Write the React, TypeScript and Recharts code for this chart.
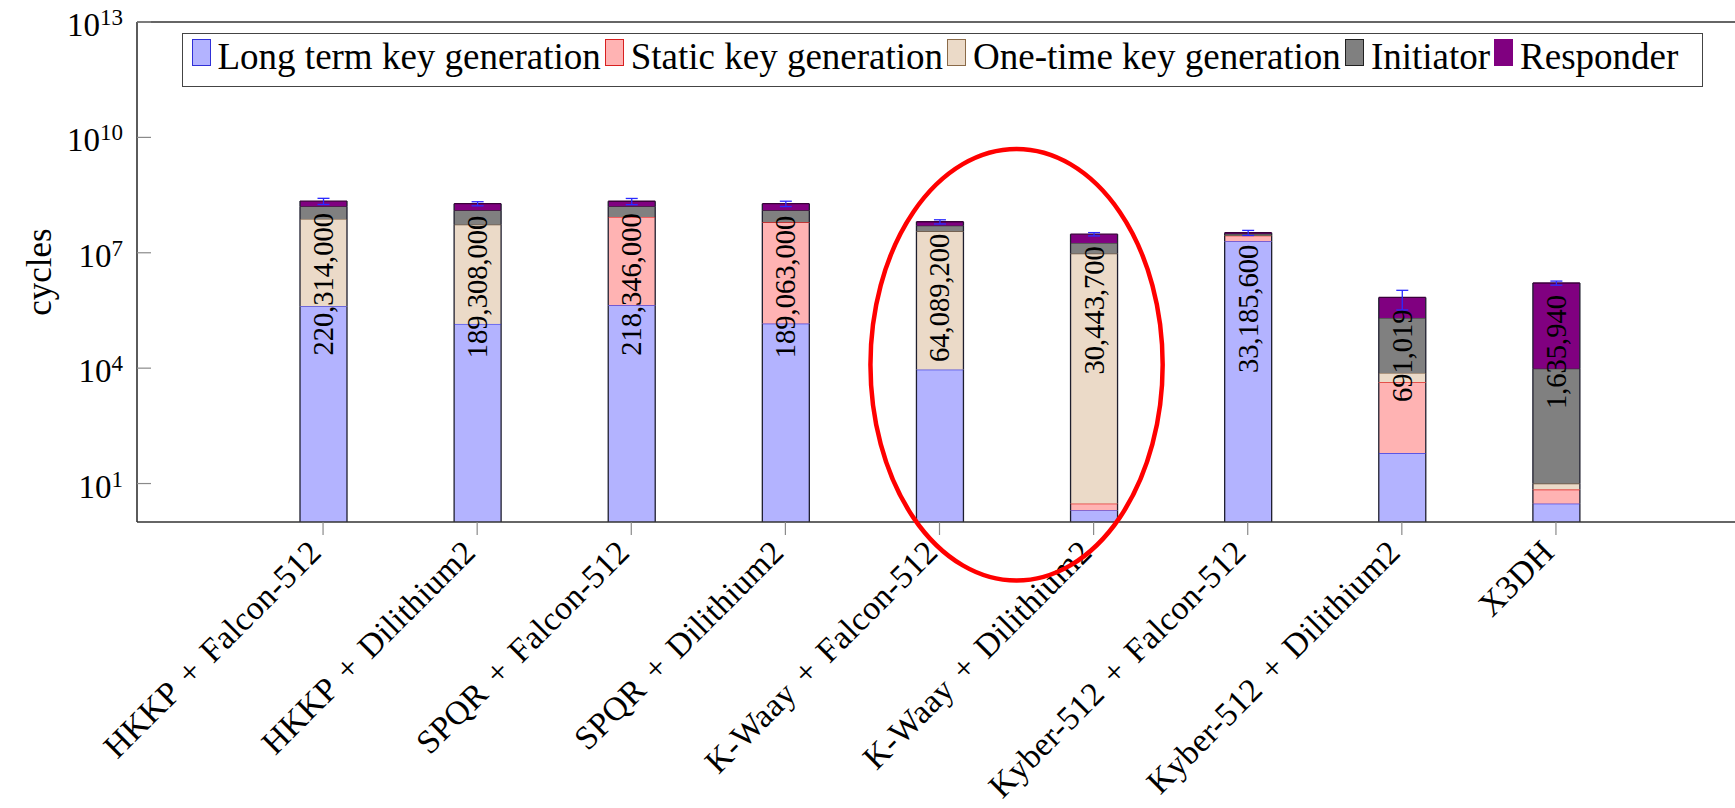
import { BarChart, Bar, XAxis, YAxis, ErrorBar, LabelList, Legend, ReferenceArea } from "recharts"

const SERIF = '"Liberation Serif", "Times New Roman", serif'
const AXIS = "#333333"
const TICK = "#8a8a8a"

const categories = [
  "HKKP + Falcon-512",
  "HKKP + Dilithium2",
  "SPQR + Falcon-512",
  "SPQR + Dilithium2",
  "K-Waay + Falcon-512",
  "K-Waay + Dilithium2",
  "Kyber-512 + Falcon-512",
  "Kyber-512 + Dilithium2",
  "X3DH",
]

// cycles per phase
const longTerm = [405000, 141000, 430000, 144000, 9160, 2, 19800000, 62, 3]
const staticKey = [0, 0, 84900000, 61700000, 0, 1, 8000000, 4220, 4]
const oneTime = [75300000, 53700000, 0, 0, 36000000, 9500000, 500000, 3220, 3]
const initiator = [85000000, 73000000, 75700000, 65000000, 14700000, 8500000, 2900000, 194500, 9700]
const responder = [59609000, 62467000, 57316000, 62219000, 13380040, 12443697, 1985600, 489017, 1626230]
const errors = [40000000, 23000000, 40000000, 30000000, 8000000, 3000000, 5000000, 365000, 200000]

const yTicks = [10, 1e4, 1e7, 1e10, 1e13]

const series = [
  { key: "lt", name: "Long term key generation", fill: "#b3b3ff", edge: "#2f2fe0", swatch: "#3030d8" },
  { key: "st", name: "Static key generation", fill: "#ffb3b3", edge: "#e01010", swatch: "#d82020" },
  { key: "ot", name: "One-time key generation", fill: "#ebdac8", edge: "#6e5238", swatch: "#8a6a48" },
  { key: "ini", name: "Initiator", fill: "#808080", edge: "#303030", swatch: "#202020" },
  { key: "resp", name: "Responder", fill: "#800080", edge: "#3a003a", swatch: "#800080" },
]

// the red ring drawn around the two K-Waay bars
const highlight = { from: "K-Waay + Falcon-512", to: "K-Waay + Dilithium2", low: 0.03, high: 5e9 }

// log axis starts at 1, so each segment is drawn as a [bottom, top] range
const rows = categories.map((name, i) => {
  const parts = [longTerm[i], staticKey[i], oneTime[i], initiator[i], responder[i]]
  let acc = 0
  const row: any = { name, err: errors[i] }
  parts.forEach((v, j) => {
    const lo = acc
    acc += v
    row[series[j].key] = [Math.max(lo, 1), acc]
  })
  row.total = acc
  return row
})

const segmentShape = (fill: string, edge: string) => (props: any) => {
  const { x, y, width, height } = props
  if (!height || height <= 0) return <g />
  return (
    <g>
      <rect x={x} y={y} width={width} height={height} fill={fill} />
      <line x1={x} x2={x} y1={y} y2={y + height} stroke="#1e1e2e" strokeWidth={1.3} />
      <line x1={x + width} x2={x + width} y1={y} y2={y + height} stroke="#1e1e2e" strokeWidth={1.3} />
      <line x1={x} x2={x + width} y1={y} y2={y} stroke={edge} strokeWidth={1.3} />
    </g>
  )
}

function XTick({ x, y, payload }: any) {
  const ax = x - 8
  return (
    <text
      x={ax}
      y={y}
      transform={`rotate(-45 ${ax} ${y})`}
      textAnchor="end"
      dominantBaseline="central"
      fontFamily={SERIF}
      fontSize={33.5}
      letterSpacing={0.3}
      wordSpacing={4}
      fill="#000"
    >
      {payload.value}
    </text>
  )
}

function YTick({ x, y, payload }: any) {
  const exp = Math.round(Math.log10(payload.value))
  return (
    <text x={x} y={y + 14} textAnchor="end" fontFamily={SERIF} fontSize={33} fill="#000">
      10
      <tspan dy={-11} fontSize={23}>
        {exp}
      </tspan>
    </text>
  )
}

function TotalLabel({ x, y, width, value }: any) {
  const top = Array.isArray(value) ? value[1] : value
  const cx = x + width / 2
  const ty = y + 12
  return (
    <text
      x={cx}
      y={ty}
      transform={`rotate(-90 ${cx} ${ty})`}
      textAnchor="end"
      dominantBaseline="central"
      fontFamily={SERIF}
      fontSize={28.5}
      fill="#000"
    >
      {Math.round(top).toLocaleString("en-US")}
    </text>
  )
}

function CyclesLabel({ viewBox }: any) {
  const cx = viewBox.x + 39
  const cy = viewBox.y + viewBox.height / 2
  return (
    <text
      x={cx}
      y={cy}
      transform={`rotate(-90 ${cx} ${cy})`}
      textAnchor="middle"
      dominantBaseline="central"
      fontFamily={SERIF}
      fontSize={35}
      fill="#000"
    >
      cycles
    </text>
  )
}

function LegendBox() {
  return (
    <div
      style={{
        boxSizing: "border-box",
        width: 1521,
        height: 54,
        border: "1.5px solid #444",
        background: "#fff",
        paddingLeft: 8.5,
        lineHeight: "45px",
        whiteSpace: "nowrap",
        fontFamily: SERIF,
        fontSize: 37,
        color: "#000",
      }}
    >
      {series.map((s, i) => (
        <span key={s.key}>
          <span
            style={{
              display: "inline-block",
              boxSizing: "border-box",
              width: 19,
              height: 27,
              marginLeft: i === 0 ? 0 : 4,
              marginRight: 7,
              background: s.fill,
              border: `1.5px solid ${s.swatch}`,
              position: "relative",
              top: -3,
            }}
          />
          <span>{s.name}</span>
        </span>
      ))}
    </div>
  )
}

const ellipseShape = (props: any) => {
  const { x, y, width, height } = props
  return (
    <ellipse
      cx={x + width / 2}
      cy={y + height / 2}
      rx={width / 2 - 8}
      ry={height / 2}
      fill="none"
      stroke="#ff0000"
      strokeWidth={4.5}
    />
  )
}

export default function App() {
  return (
    <div
      style={{
        position: "absolute",
        left: 0,
        top: 0,
        width: 1735,
        height: 808,
        overflow: "hidden",
        background: "#fff",
      }}
    >
      <BarChart
        width={1760}
        height={808}
        data={rows}
        margin={{ top: 0, right: 0, bottom: 0, left: 0 }}
        barSize={47}
        barGap={-47}
      >
        <XAxis
          dataKey="name"
          height={286}
          padding={{ left: 109, right: 107 }}
          interval={0}
          tickSize={13}
          tickMargin={11}
          tickLine={{ stroke: TICK, strokeWidth: 1.2 }}
          axisLine={{ stroke: AXIS, strokeWidth: 1.6 }}
          tick={<XTick />}
        />
        <XAxis
          xAxisId="top"
          orientation="top"
          dataKey="name"
          height={22}
          padding={{ left: 109, right: 107 }}
          interval={0}
          tickSize={13}
          tick={false}
          tickLine={{ stroke: TICK, strokeWidth: 1.2 }}
          axisLine={{ stroke: AXIS, strokeWidth: 1.6 }}
        />
        <YAxis
          type="number"
          scale="log"
          domain={[1, 1e13]}
          allowDataOverflow
          ticks={yTicks}
          interval={0}
          width={137}
          tickSize={-14}
          tickMargin={28}
          tickLine={{ stroke: TICK, strokeWidth: 1.2 }}
          axisLine={{ stroke: AXIS, strokeWidth: 1.6 }}
          tick={<YTick />}
          label={{ content: <CyclesLabel /> }}
        />
        <YAxis
          yAxisId="r"
          orientation="right"
          type="number"
          scale="log"
          domain={[1, 1e13]}
          allowDataOverflow
          ticks={yTicks}
          interval={0}
          width={20}
          tickSize={-14}
          tick={false}
          tickLine={{ stroke: TICK, strokeWidth: 1.2 }}
          axisLine={{ stroke: AXIS, strokeWidth: 1.6 }}
        />
        <Legend
          verticalAlign="middle"
          align="center"
          content={<LegendBox />}
          wrapperStyle={{ top: 33, left: 182, width: 1521, height: 54 }}
        />
        {series.map((s) => (
          <Bar
            key={s.key}
            dataKey={s.key}
            name={s.name}
            fill={s.fill}
            shape={segmentShape(s.fill, s.edge)}
            isAnimationActive={false}
          >
            {s.key === "resp" && (
              <ErrorBar dataKey="err" width={6} stroke="#2a2aff" strokeWidth={1.3} direction="y" isAnimationActive={false} />
            )}
            {s.key === "resp" && <LabelList dataKey="resp" content={<TotalLabel />} />}
          </Bar>
        ))}
        <ReferenceArea
          x1={highlight.from}
          x2={highlight.to}
          y1={highlight.low}
          y2={highlight.high}
          ifOverflow="visible"
          shape={ellipseShape}
          zIndex={2500}
        />
      </BarChart>
    </div>
  )
}
